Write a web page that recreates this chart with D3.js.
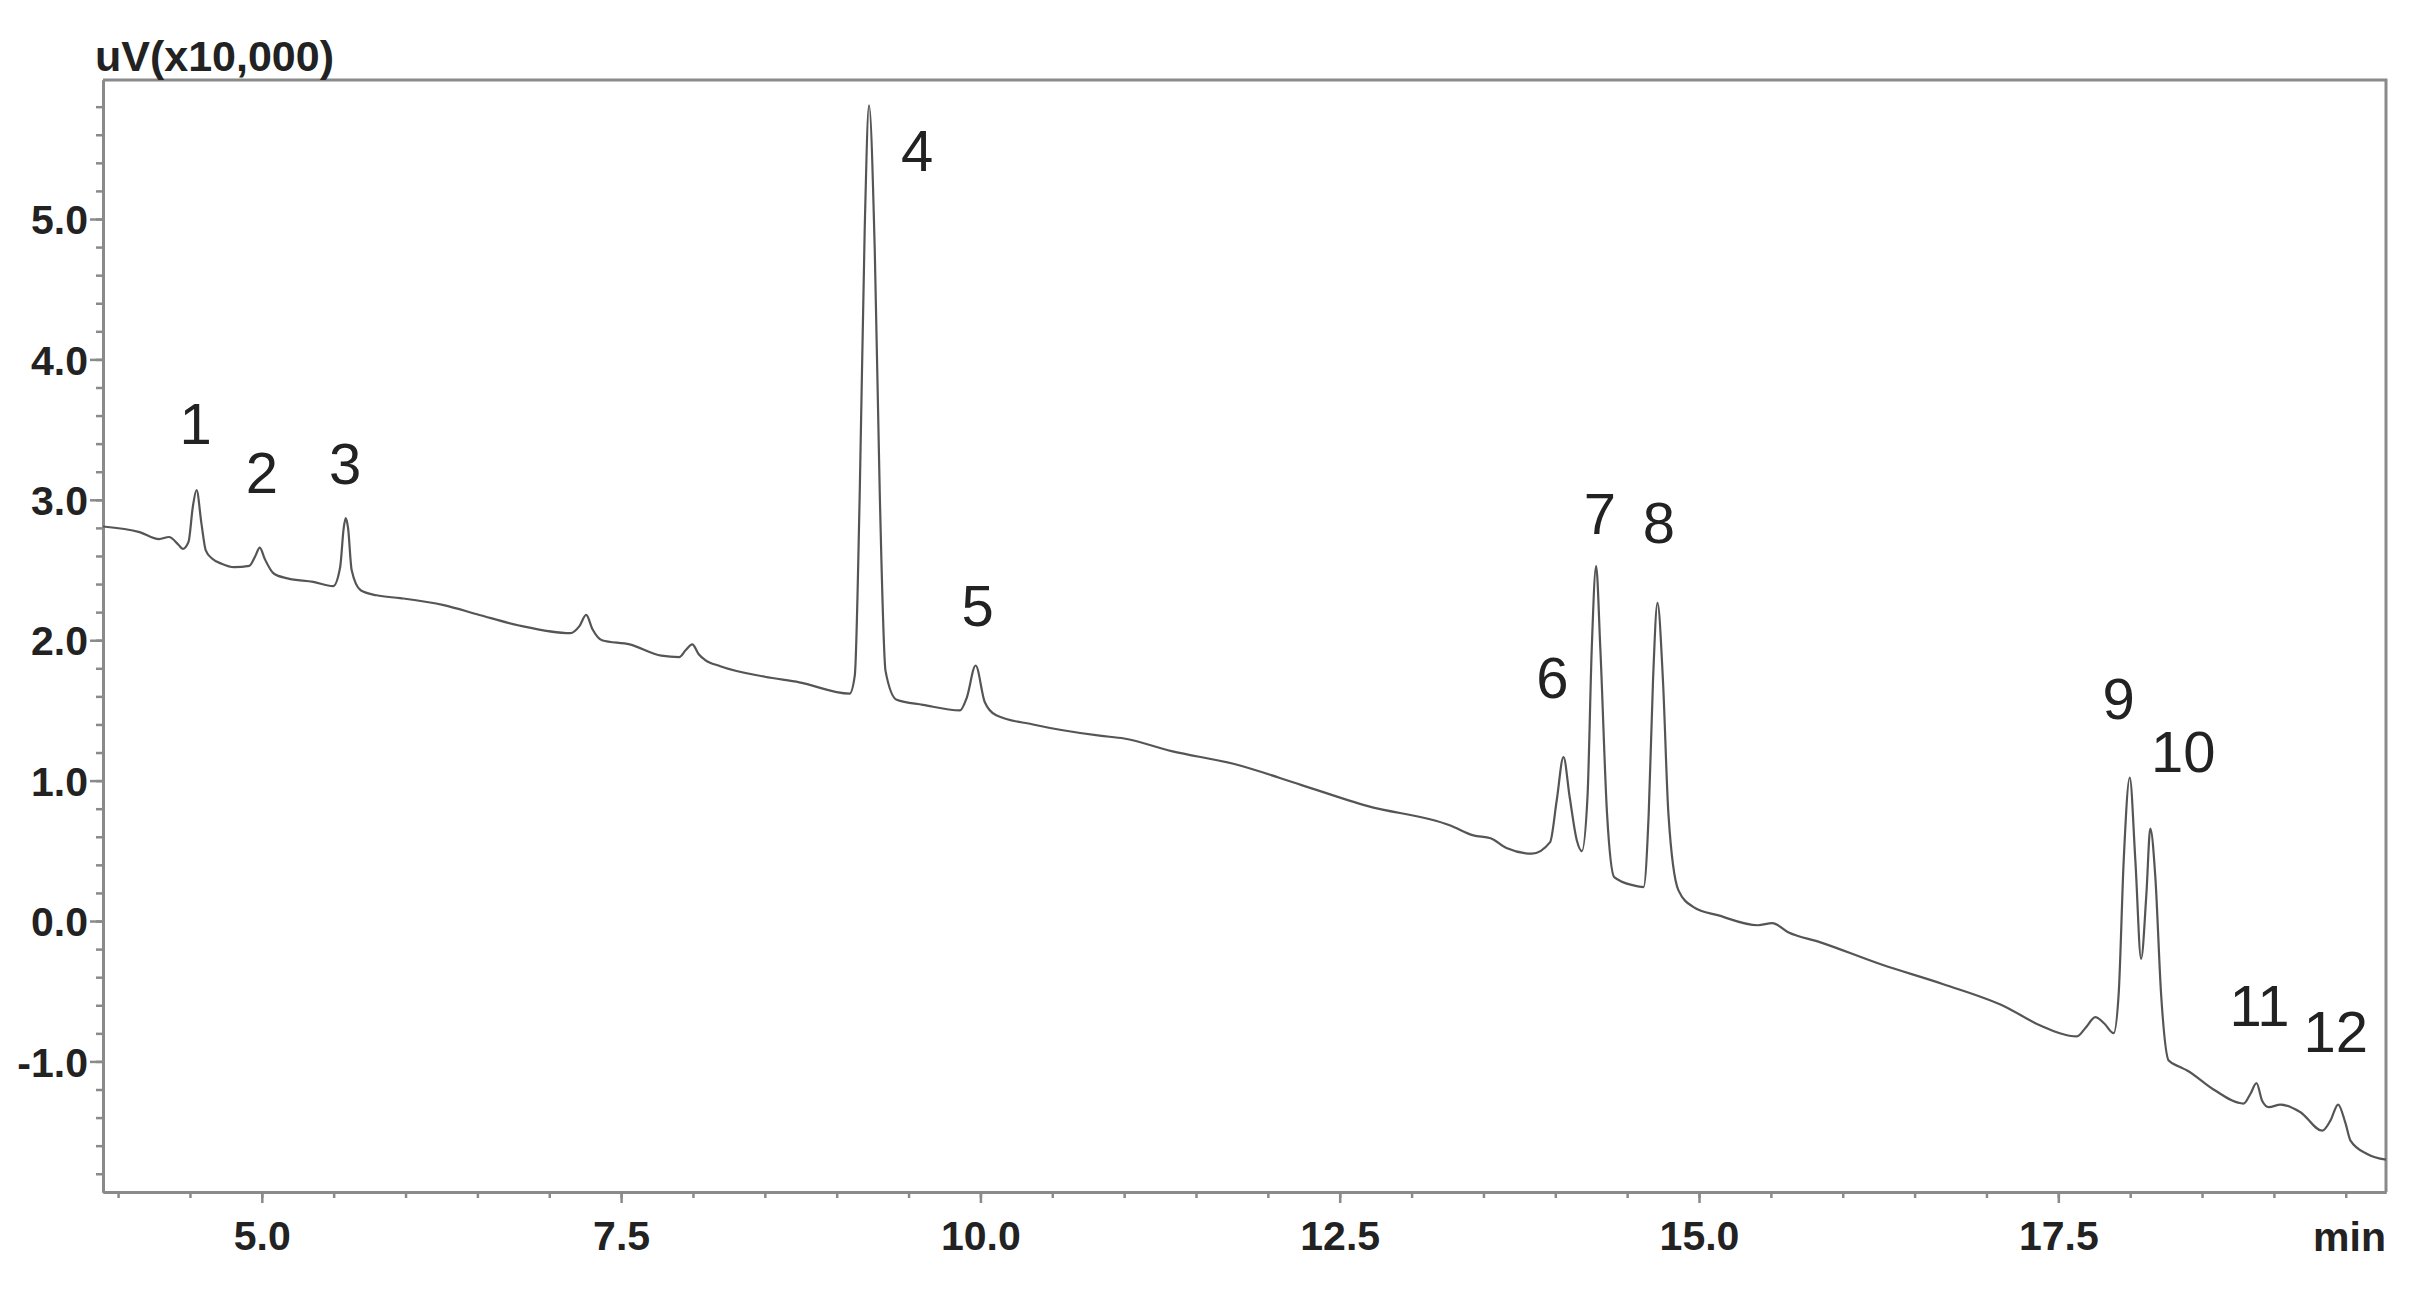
<!DOCTYPE html>
<html>
<head>
<meta charset="utf-8">
<script src="https://cdn.jsdelivr.net/npm/d3@7"></script>
<style>
  html, body { margin: 0; padding: 0; background: #fff; }
  svg { display: block; }
</style>
</head>
<body>
<svg id="chart" width="2418" height="1305"></svg>
<script>
// ---- Data (retention time in min, signal in uV x10,000) ----
const times = [
  3.895, 4.15, 4.285, 4.354, 4.42, 4.45, 4.49, 4.52, 4.546, 4.58, 4.61, 4.656, 4.72, 4.807,
  4.913, 4.955, 4.986, 5.02, 5.083, 5.179, 5.358, 5.496, 5.545, 5.57, 5.584, 5.60, 5.625, 5.688,
  5.798, 5.963, 6.266, 6.514, 6.79, 7.147, 7.21, 7.257, 7.30, 7.367, 7.56, 7.78, 7.904, 7.95,
  7.995, 8.04, 8.083, 8.19, 8.50, 8.74, 9.09, 9.126, 9.16, 9.195, 9.225, 9.265, 9.30, 9.34,
  9.417, 9.60, 9.858, 9.905, 9.967, 10.03, 10.11, 10.366, 10.83, 11.00, 11.33, 11.76, 12.23,
  12.69, 13.27, 13.43, 13.55, 13.66, 13.837, 13.964, 14.01, 14.057, 14.10, 14.15, 14.185, 14.224, 14.254,
  14.284, 14.313, 14.36, 14.41, 14.545, 14.614, 14.65, 14.68, 14.711, 14.749, 14.787, 14.857,
  14.962, 15.136, 15.41, 15.51, 15.62, 15.84, 16.27, 16.70, 17.13, 17.375, 17.63, 17.69, 17.758,
  17.82, 17.885, 17.92, 17.955, 17.997, 18.036, 18.076, 18.113, 18.14, 18.175, 18.215, 18.268,
  18.35, 18.396, 18.58, 18.79, 18.837, 18.879, 18.918, 18.965, 19.046, 19.185, 19.336, 19.394,
  19.447, 19.498, 19.533, 19.649, 19.78
];
const signal = [
  2.81, 2.77, 2.72, 2.735, 2.68, 2.65, 2.70, 2.95, 3.07, 2.83, 2.64, 2.58, 2.545, 2.52,
  2.53, 2.60, 2.66, 2.58, 2.475, 2.44, 2.415, 2.385, 2.52, 2.80, 2.87, 2.80, 2.50, 2.356,
  2.32, 2.30, 2.25, 2.18, 2.105, 2.05, 2.10, 2.18, 2.08, 2.00, 1.97, 1.89, 1.88, 1.93,
  1.97, 1.90, 1.86, 1.815, 1.74, 1.70, 1.62, 1.75, 3.03, 4.93, 5.81, 4.77, 3.03, 1.78,
  1.576, 1.54, 1.50, 1.59, 1.82, 1.56, 1.465, 1.40, 1.32, 1.30, 1.21, 1.12, 0.97,
  0.82, 0.68, 0.61, 0.59, 0.52, 0.48, 0.562, 0.86, 1.168, 0.883, 0.574, 0.498, 0.883, 1.95,
  2.527, 1.95, 0.765, 0.313, 0.254, 0.242, 0.765, 1.715, 2.266, 1.715, 0.765, 0.218,
  0.099, 0.04, -0.03, -0.015, -0.08, -0.15, -0.31, -0.45, -0.61, -0.744, -0.822, -0.76, -0.685,
  -0.73, -0.799, -0.518, 0.432, 1.021, 0.432, -0.269, 0.195, 0.658, 0.313, -0.518, -0.994,
  -1.041, -1.065, -1.20, -1.30, -1.23, -1.155, -1.28, -1.326, -1.307, -1.362, -1.493, -1.42,
  -1.307, -1.44, -1.564, -1.659, -1.70
];

// Peak labels anchored in data units (time, signal)
const peakLabels      = ["1", "2", "3", "4", "5", "6", "7", "8", "9", "10", "11", "12"];
const peakLabelTimes  = [4.54, 5.00, 5.58, 9.56, 9.98, 13.98, 14.31, 14.72, 17.92, 18.37, 18.90, 19.43];
const peakLabelValues = [3.40, 3.05, 3.11, 5.34, 2.10, 1.59, 2.76, 2.69, 1.44, 1.06, -0.75, -0.93];

// Axis ticks
const xMajorTicks = [5.0, 7.5, 10.0, 12.5, 15.0, 17.5];
const xMinorTicks = d3.range(4.0, 19.51, 0.5);
const yMajorTicks = [-1.0, 0.0, 1.0, 2.0, 3.0, 4.0, 5.0];
const yMinorTicks = d3.range(-1.8, 5.81, 0.2).map(v => Math.round(v * 10) / 10);
const xDomain = [3.895, 19.78];
const yDomain = [-1.93, 5.99];
const yAxisTitle = "uV(x10,000)";
const xAxisUnit = "min";

// ---- Drawing ----
const svg = d3.select("#chart");
const mLeft = 103, mRight = 2386, mTop = 80, mBottom = 1192;
const axisColor = "#8a8a8a";
const textColor = "#222";
const fmt = v => d3.format(".1f")(v).replace("\u2212", "-");

const x = d3.scaleLinear().domain(xDomain).range([mLeft, mRight]);
const y = d3.scaleLinear().domain(yDomain).range([mBottom, mTop]);

// frame (top, right)
svg.append("path")
  .attr("d", `M${mLeft},${mTop}H${mRight}V${mBottom}`)
  .attr("fill", "none").attr("stroke", axisColor).attr("stroke-width", 3);

function styleAxis(g) {
  g.selectAll("path.domain").attr("stroke", axisColor).attr("stroke-width", 3);
  g.selectAll(".tick line").attr("stroke", axisColor).attr("stroke-width", 2.5);
  g.selectAll(".tick text")
    .attr("fill", textColor)
    .attr("font-family", "'Liberation Sans', Arial, sans-serif")
    .attr("font-weight", "bold")
    .attr("font-size", 41);
}

// y minor
svg.append("g").attr("transform", `translate(${mLeft},0)`)
  .call(d3.axisLeft(y).tickValues(yMinorTicks).tickSize(7).tickFormat("").tickSizeOuter(0))
  .call(styleAxis);
// y major
svg.append("g").attr("transform", `translate(${mLeft},0)`)
  .call(d3.axisLeft(y).tickValues(yMajorTicks).tickSize(13).tickPadding(2)
        .tickFormat(fmt).tickSizeOuter(0))
  .call(styleAxis)
  .call(g => g.selectAll(".tick text").attr("dy", "0.36em"));

// x minor
svg.append("g").attr("transform", `translate(0,${mBottom})`)
  .call(d3.axisBottom(x).tickValues(xMinorTicks).tickSize(6).tickFormat("").tickSizeOuter(0))
  .call(styleAxis);
// x major
svg.append("g").attr("transform", `translate(0,${mBottom})`)
  .call(d3.axisBottom(x).tickValues(xMajorTicks).tickSize(11).tickPadding(18)
        .tickFormat(fmt).tickSizeOuter(0))
  .call(styleAxis);

// axis titles
svg.append("text")
  .attr("x", mLeft - 8).attr("y", mTop - 9)
  .attr("fill", textColor)
  .attr("font-family", "'Liberation Sans', Arial, sans-serif")
  .attr("font-weight", "bold").attr("font-size", 43)
  .text(yAxisTitle);

svg.append("text")
  .attr("x", mRight).attr("y", mBottom + 59)
  .attr("text-anchor", "end")
  .attr("fill", textColor)
  .attr("font-family", "'Liberation Sans', Arial, sans-serif")
  .attr("font-weight", "bold").attr("font-size", 41)
  .text(xAxisUnit);

// trace
const pts = times.map((t, i) => [t, signal[i]]);
const line = d3.line().x(d => x(d[0])).y(d => y(d[1])).curve(d3.curveMonotoneX);
svg.append("path")
  .datum(pts)
  .attr("d", line)
  .attr("fill", "none")
  .attr("stroke", "#555")
  .attr("stroke-width", 2.2)
  .attr("stroke-linejoin", "round");

// peak labels
svg.append("g").selectAll("text")
  .data(peakLabels)
  .join("text")
  .attr("x", (d, i) => x(peakLabelTimes[i]))
  .attr("y", (d, i) => y(peakLabelValues[i]))
  .attr("text-anchor", "middle")
  .attr("fill", textColor)
  .attr("font-family", "'Liberation Sans', Arial, sans-serif")
  .attr("font-size", 58)
  .text(d => d);
</script>
</body>
</html>
